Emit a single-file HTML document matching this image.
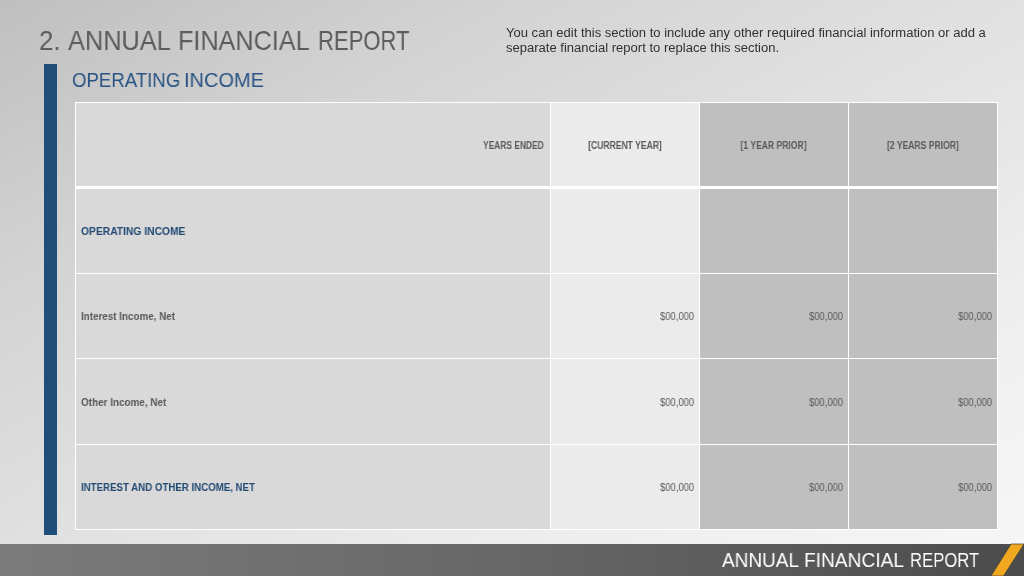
<!DOCTYPE html>
<html><head><meta charset="utf-8">
<style>
*{margin:0;padding:0;box-sizing:border-box}
html,body{width:1024px;height:576px;overflow:hidden}
body{position:relative;font-family:"Liberation Sans",sans-serif;
background:linear-gradient(to bottom right,#bfbfbf 0%,#d3d3d3 25%,#e1e1e1 50%,#eeeeee 75%,#f7f7f7 100%);}
.abs{position:absolute;white-space:nowrap}
.t{position:absolute;white-space:nowrap;transform-origin:0 0;will-change:transform}
.hd span,.v span{will-change:transform}
.ttl{top:27px;font-size:28px;line-height:28px;color:#5c5c5c}
#note{left:506px;top:26px;font-size:12px;line-height:15.4px;color:#303030;transform:scaleX(1.086)}
#bar{left:44px;top:64px;width:13px;height:471px;background:#1f4e79}
.sub{top:69px;font-size:21px;line-height:21px;color:#2a5484;}
#tbl{left:75px;top:102px;width:923px;height:428px;background:#fff}
.c{position:absolute}
.g0{background:#d9d9d9}
.g1{background:#ebebeb}
.g2{background:#bfbfbf}
.hd{position:absolute;top:141px;width:148px;text-align:center;font-size:10px;line-height:10px;font-weight:bold;color:#595959}
.hd span{display:inline-block;transform:scaleX(.857);transform-origin:50% 0}
.lb{font-size:11px;line-height:11px;font-weight:bold;color:#595959;left:81px}
.lbb{color:#234a74}
.v{position:absolute;width:148px;text-align:right;font-size:10px;line-height:10px;color:#595959}
.v span{display:inline-block;transform:scaleX(.944);transform-origin:100% 0}
#foot{left:0;top:544px;width:1024px;height:32px;background:linear-gradient(90deg,#7b7b7b 0%,#6f6f6f 30%,#676767 50%,#5a5a5a 75%,#4b4b4b 100%)}
.ftx{top:549px;font-size:21px;line-height:21px;color:#fff}
</style></head><body>
<div class="t ttl" style="left:38.5px;transform:scaleX(.925)">2.</div>
<div class="t ttl" style="left:67.6px;transform:scaleX(.905)">ANNUAL</div>
<div class="t ttl" style="left:178.4px;transform:scaleX(.9)">FINANCIAL</div>
<div class="t ttl" style="left:318.3px;transform:scaleX(.788)">REPORT</div>
<div class="t" id="note">You can edit this section to include any other required financial information or add a<br>separate financial report to replace this section.</div>
<div class="abs" id="bar"></div>
<div class="t sub" style="left:72px;transform:scaleX(.887)">OPERATING</div>
<div class="t sub" style="left:184.3px;transform:scaleX(.952)">INCOME</div>

<div class="abs" id="tbl">
  <div class="c g0" style="left:1px;top:1px;width:474px;height:83px"></div>
  <div class="c g1" style="left:476px;top:1px;width:148px;height:83px"></div>
  <div class="c g2" style="left:625px;top:1px;width:148px;height:83px"></div>
  <div class="c g2" style="left:774px;top:1px;width:148px;height:83px"></div>

  <div class="c g0" style="left:1px;top:87px;width:474px;height:84px"></div>
  <div class="c g1" style="left:476px;top:87px;width:148px;height:84px"></div>
  <div class="c g2" style="left:625px;top:87px;width:148px;height:84px"></div>
  <div class="c g2" style="left:774px;top:87px;width:148px;height:84px"></div>

  <div class="c g0" style="left:1px;top:172px;width:474px;height:84px"></div>
  <div class="c g1" style="left:476px;top:172px;width:148px;height:84px"></div>
  <div class="c g2" style="left:625px;top:172px;width:148px;height:84px"></div>
  <div class="c g2" style="left:774px;top:172px;width:148px;height:84px"></div>

  <div class="c g0" style="left:1px;top:257px;width:474px;height:85px"></div>
  <div class="c g1" style="left:476px;top:257px;width:148px;height:85px"></div>
  <div class="c g2" style="left:625px;top:257px;width:148px;height:85px"></div>
  <div class="c g2" style="left:774px;top:257px;width:148px;height:85px"></div>

  <div class="c g0" style="left:1px;top:343px;width:474px;height:84px"></div>
  <div class="c g1" style="left:476px;top:343px;width:148px;height:84px"></div>
  <div class="c g2" style="left:625px;top:343px;width:148px;height:84px"></div>
  <div class="c g2" style="left:774px;top:343px;width:148px;height:84px"></div>
</div>

<div class="t" style="left:483px;top:141px;font-size:10px;line-height:10px;font-weight:bold;color:#595959;transform:scaleX(.84)">YEARS ENDED</div>
<div class="hd" style="left:551px"><span>[CURRENT YEAR]</span></div>
<div class="hd" style="left:700px"><span>[1 YEAR PRIOR]</span></div>
<div class="hd" style="left:849px"><span>[2 YEARS PRIOR]</span></div>

<div class="t lb lbb" style="top:226px;transform:scaleX(.935)">OPERATING INCOME</div>
<div class="t lb" style="top:311px;transform:scaleX(.894)">Interest Income, Net</div>
<div class="t lb" style="top:397px;transform:scaleX(.9)">Other Income, Net</div>
<div class="t lb lbb" style="top:482px;transform:scaleX(.88)">INTEREST AND OTHER INCOME, NET</div>

<div class="v" style="left:546px;top:312px"><span>$00,000</span></div>
<div class="v" style="left:695px;top:312px"><span>$00,000</span></div>
<div class="v" style="left:844px;top:312px"><span>$00,000</span></div>
<div class="v" style="left:546px;top:398px"><span>$00,000</span></div>
<div class="v" style="left:695px;top:398px"><span>$00,000</span></div>
<div class="v" style="left:844px;top:398px"><span>$00,000</span></div>
<div class="v" style="left:546px;top:483px"><span>$00,000</span></div>
<div class="v" style="left:695px;top:483px"><span>$00,000</span></div>
<div class="v" style="left:844px;top:483px"><span>$00,000</span></div>

<div class="abs" id="foot"></div>
<div class="t ftx" style="left:721.6px;transform:scaleX(.904)">ANNUAL</div>
<div class="t ftx" style="left:804.4px;transform:scaleX(.912)">FINANCIAL</div>
<div class="t ftx" style="left:909.7px;transform:scaleX(.794)">REPORT</div>
<svg class="abs" style="left:0;top:0" width="1024" height="576">
  <polygon points="1011,544 1024,544 1003.5,576 991,576" fill="#f1a820" stroke="#383838" stroke-width=".7"/>
</svg>
</body></html>
